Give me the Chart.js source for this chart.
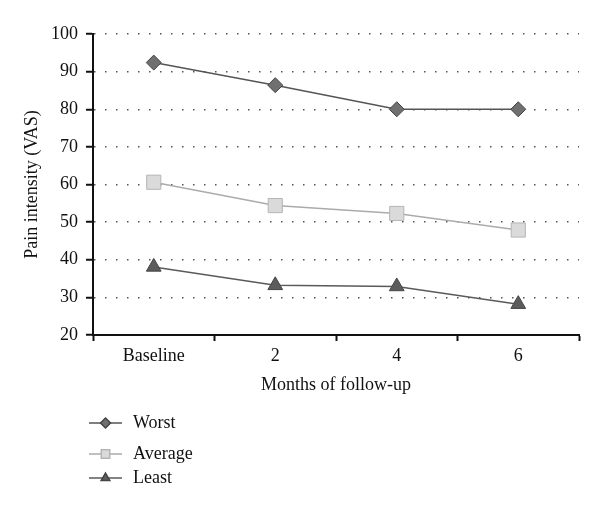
<!DOCTYPE html>
<html lang="en">
<head>
    <meta charset="UTF-8">
    <title>Pain intensity over follow-up</title>
    <script src="https://cdn.jsdelivr.net/npm/chart.js"></script>
    <style>
        body {
            margin: 0;
            background: #fff;
        }
        canvas {
            display: block;
        }
    </style>
</head>
<body>

    <canvas id="painChart" width="600" height="511"></canvas>

    <script>
        const months = ['Baseline', '2', '4', '6'];
        const worst = [92.4, 86.4, 80.0, 80.0];
        const average = [60.6, 54.4, 52.3, 47.9];
        const least = [38.1, 33.2, 32.9, 28.2];
        const yTicks = [20, 30, 40, 50, 60, 70, 80, 90, 100];

        const serif = '"Liberation Serif", "DejaVu Serif", serif';

        // legend stacked under the chart, like the original figure
        const stackedLegend = {
            id: 'stackedLegend',
            afterDraw(chart) {
                const ctx = chart.ctx;
                const rows = [423, 454, 478];
                chart.data.datasets.forEach((ds, i) => {
                    const y = rows[i];
                    ctx.save();
                    ctx.strokeStyle = ds.borderColor;
                    ctx.lineWidth = ds.borderWidth;
                    ctx.beginPath();
                    ctx.moveTo(89, y);
                    ctx.lineTo(122, y);
                    ctx.stroke();
                    ctx.fillStyle = ds.pointBackgroundColor;
                    ctx.strokeStyle = ds.pointBorderColor;
                    Chart.helpers.drawPoint(ctx, {
                        pointStyle: ds.pointStyle,
                        radius: ds.pointStyle === 'rect' ? 6 : 5,
                        rotation: 0,
                        borderWidth: 1
                    }, 105.5, y);
                    ctx.fillStyle = '#111';
                    ctx.font = '18px ' + serif;
                    ctx.textBaseline = 'middle';
                    ctx.fillText(ds.label, 133, y);
                    ctx.restore();
                });
            }
        };

        new Chart(document.getElementById('painChart'), {
            type: 'line',
            data: {
                labels: months,
                datasets: [{
                    label: 'Worst',
                    data: worst,
                    borderColor: '#555555',
                    borderWidth: 1.5,
                    pointStyle: 'rectRot',
                    pointRadius: 7.5,
                    pointBackgroundColor: '#707070',
                    pointBorderColor: '#444444',
                    pointBorderWidth: 1
                }, {
                    label: 'Average',
                    data: average,
                    borderColor: '#ababab',
                    borderWidth: 1.5,
                    pointStyle: 'rect',
                    pointRadius: 10,
                    pointBackgroundColor: '#dadada',
                    pointBorderColor: '#b5b5b5',
                    pointBorderWidth: 1
                }, {
                    label: 'Least',
                    data: least,
                    borderColor: '#5a5a5a',
                    borderWidth: 1.5,
                    pointStyle: 'triangle',
                    pointRadius: 8.5,
                    pointBackgroundColor: '#5c5c5c',
                    pointBorderColor: '#444444',
                    pointBorderWidth: 1
                }]
            },
            options: {
                responsive: false,
                animation: false,
                layout: {
                    padding: { left: 14, right: 21, top: 34, bottom: 111 }
                },
                plugins: {
                    legend: { display: false },
                    tooltip: { enabled: false }
                },
                scales: {
                    y: {
                        min: 20,
                        max: 100,
                        afterBuildTicks: (scale) => {
                            scale.ticks = yTicks.map(v => ({ value: v }));
                        },
                        afterFit: (scale) => { scale.width = 79; },
                        border: { color: '#111', width: 2, dash: [1.5, 9.5] },
                        grid: {
                            color: '#555',
                            lineWidth: 1.5,
                            tickLength: 7,
                            tickColor: '#111',
                            tickWidth: 2,
                            tickBorderDash: []
                        },
                        ticks: {
                            color: '#111',
                            padding: 8,
                            font: { family: serif, size: 18 }
                        },
                        title: {
                            display: true,
                            text: 'Pain intensity (VAS)',
                            color: '#111',
                            padding: { top: 7, bottom: 0 },
                            font: { family: serif, size: 18 }
                        }
                    },
                    x: {
                        offset: true,
                        afterFit: (scale) => { scale.height = 65; },
                        border: { color: '#111', width: 2 },
                        grid: {
                            offset: true,
                            drawOnChartArea: false,
                            tickLength: 6,
                            tickColor: '#111',
                            tickWidth: 2
                        },
                        ticks: {
                            color: '#111',
                            padding: 4,
                            font: { family: serif, size: 18 }
                        },
                        title: {
                            display: true,
                            text: 'Months of follow-up',
                            color: '#111',
                            padding: { top: 8 },
                            font: { family: serif, size: 18 }
                        }
                    }
                }
            },
            plugins: [stackedLegend]
        });
    </script>

</body>
</html>
